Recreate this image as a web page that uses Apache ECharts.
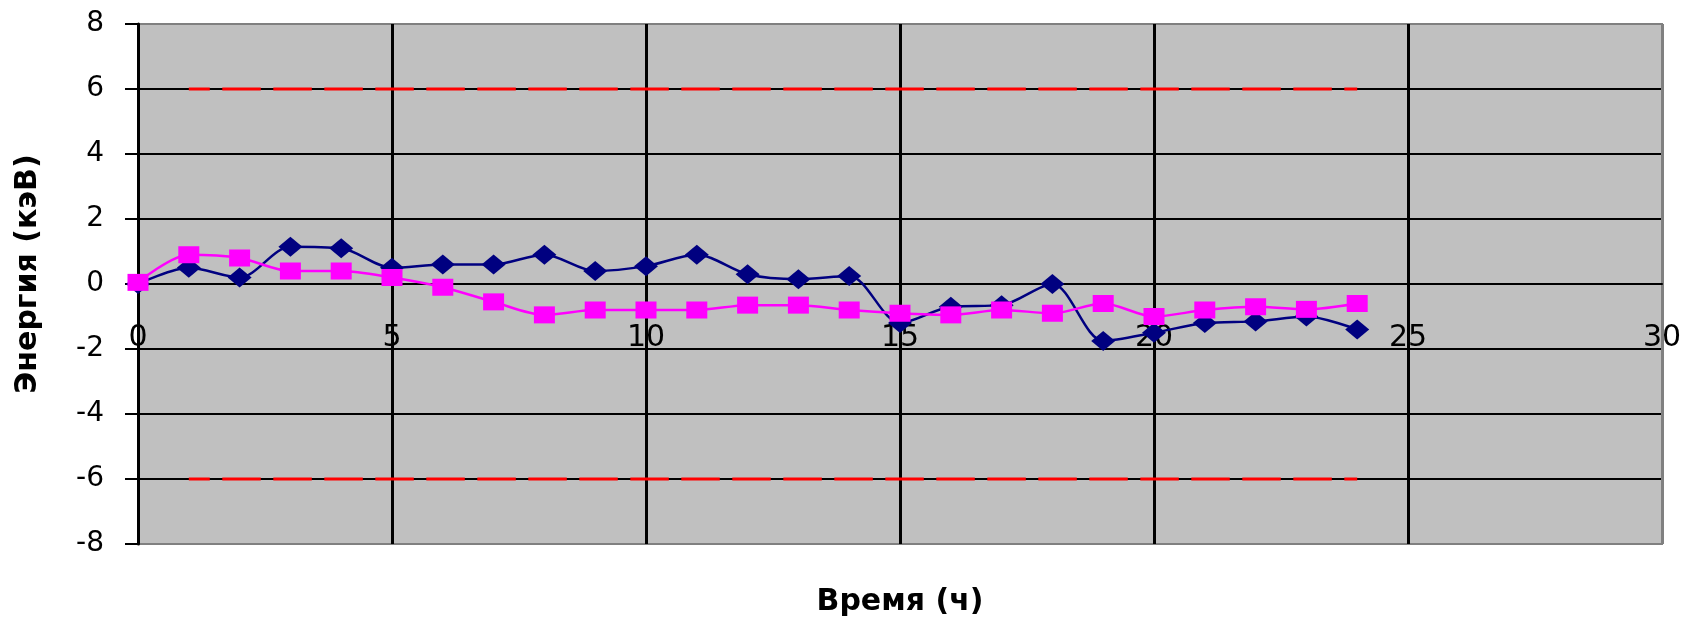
<!DOCTYPE html>
<html>
<head>
<meta charset="utf-8">
<script src="https://cdn.jsdelivr.net/npm/echarts@6/dist/echarts.min.js"></script>
<style>
  html, body { margin: 0; padding: 0; background: #ffffff; }
  #chart { width: 1692px; height: 625px; }
</style>
</head>
<body>
<div id="chart"></div>
<script>
// Hours of the day (x values)
const hours = [0, 1, 2, 3, 4, 5, 6, 7, 8, 9, 10, 11, 12, 13, 14, 15, 16, 17, 18, 19, 20, 21, 22, 23, 24];
// Energy deviation, first series (navy diamonds), keV
const energyA = [0, 0.5, 0.2, 1.15, 1.1, 0.5, 0.6, 0.6, 0.9, 0.4, 0.55, 0.9, 0.3, 0.15, 0.25,
                 -1.2, -0.7, -0.65, 0, -1.75, -1.5, -1.2, -1.15, -1.0, -1.4];
// Energy deviation, second series (magenta squares), keV
const energyB = [0.05, 0.9, 0.8, 0.4, 0.4, 0.2, -0.1, -0.55, -0.95, -0.8, -0.8, -0.8, -0.65, -0.65, -0.8,
                 -0.9, -0.95, -0.8, -0.9, -0.6, -1.0, -0.8, -0.7, -0.78, -0.6];
// Tolerance band: hours covered and upper/lower limits, keV
const limitHours = [1, 24];
const upperLimit = 6;
const lowerLimit = -6;
// Axis ranges
const xTicks = { min: 0, max: 30, step: 5 };
const yTicks = { min: -8, max: 8, step: 2 };

const pairs = (xs, ys) => xs.map((x, i) => [x, ys[i]]);
const limitLine = v => limitHours.map(h => [h, v]);

// Plot rectangle inside the 1692x625 canvas
const plot = { left: 138, right: 30, top: 24, bottom: 81 };
const plotHeight = 625 - plot.top - plot.bottom;
// The time axis crosses the energy axis at 0, i.e. mid-height of the plot
const zeroShift = -plotHeight * (0 - yTicks.min) / (yTicks.max - yTicks.min);

const chart = echarts.init(document.getElementById('chart'), null, { renderer: 'canvas' });

const limitStyle = {
  color: '#ff0000',
  width: 3,
  type: [38.5, 12.5],
  dashOffset: 17.5
};

chart.setOption({
  animation: false,
  backgroundColor: '#ffffff',
  grid: {
    left: plot.left,
    right: plot.right,
    top: plot.top,
    bottom: plot.bottom,
    containLabel: false,
    outerBoundsMode: 'none',
    show: true,
    backgroundColor: '#c0c0c0',
    borderColor: '#808080',
    borderWidth: 2
  },
  xAxis: {
    type: 'value',
    position: 'bottom',
    offset: zeroShift,
    min: xTicks.min,
    max: xTicks.max,
    interval: xTicks.step,
    name: 'Время (ч)',
    nameLocation: 'middle',
    nameGap: 303,
    nameTextStyle: {
      fontFamily: 'DejaVu Sans',
      fontWeight: 'bold',
      fontSize: 30,
      color: '#000000'
    },
    axisLine: { show: true, onZero: false, lineStyle: { color: '#000000', width: 2 } },
    axisTick: { show: false },
    axisLabel: {
      margin: 39,
      fontFamily: 'DejaVu Sans',
      fontSize: 30,
      color: '#000000',
      showMinLabel: true,
      showMaxLabel: true
    },
    splitLine: {
      show: true,
      lineStyle: {
        color: ['#000000', '#000000', '#000000', '#000000', '#000000', '#000000', '#808080'],
        width: 3
      }
    }
  },
  yAxis: {
    type: 'value',
    min: yTicks.min,
    max: yTicks.max,
    interval: yTicks.step,
    name: 'Энергия (кэВ)',
    nameLocation: 'middle',
    nameGap: 95,
    nameRotate: 90,
    nameTextStyle: {
      fontFamily: 'DejaVu Sans',
      fontWeight: 'bold',
      fontSize: 30,
      color: '#000000',
      padding: [0, 0, 0, 20]
    },
    axisLine: { show: true, onZero: false, lineStyle: { color: '#000000', width: 3 } },
    axisTick: { show: true, inside: false, length: 13, lineStyle: { color: '#000000', width: 2 } },
    axisLabel: {
      margin: 34,
      fontFamily: 'DejaVu Sans',
      fontSize: 28,
      color: '#000000'
    },
    splitLine: {
      show: true,
      lineStyle: {
        color: ['#808080', '#000000', '#000000', '#000000', '#000000', '#000000', '#000000', '#000000', '#808080'],
        width: 2
      }
    }
  },
  series: [
    {
      name: 'upper',
      type: 'line',
      data: limitLine(upperLimit),
      symbol: 'none',
      lineStyle: limitStyle,
      z: 3
    },
    {
      name: 'lower',
      type: 'line',
      data: limitLine(lowerLimit),
      symbol: 'none',
      lineStyle: limitStyle,
      z: 3
    },
    {
      name: 'A',
      type: 'line',
      data: pairs(hours, energyA),
      smooth: 0.3,
      symbol: 'diamond',
      symbolSize: [24, 20],
      itemStyle: { color: '#000080' },
      lineStyle: { color: '#000080', width: 2.5 },
      z: 4
    },
    {
      name: 'B',
      type: 'line',
      data: pairs(hours, energyB),
      smooth: 0.3,
      symbol: 'rect',
      symbolSize: [21, 17],
      itemStyle: { color: '#ff00ff' },
      lineStyle: { color: '#ff00ff', width: 2.5 },
      z: 5
    }
  ]
});
</script>
</body>
</html>
